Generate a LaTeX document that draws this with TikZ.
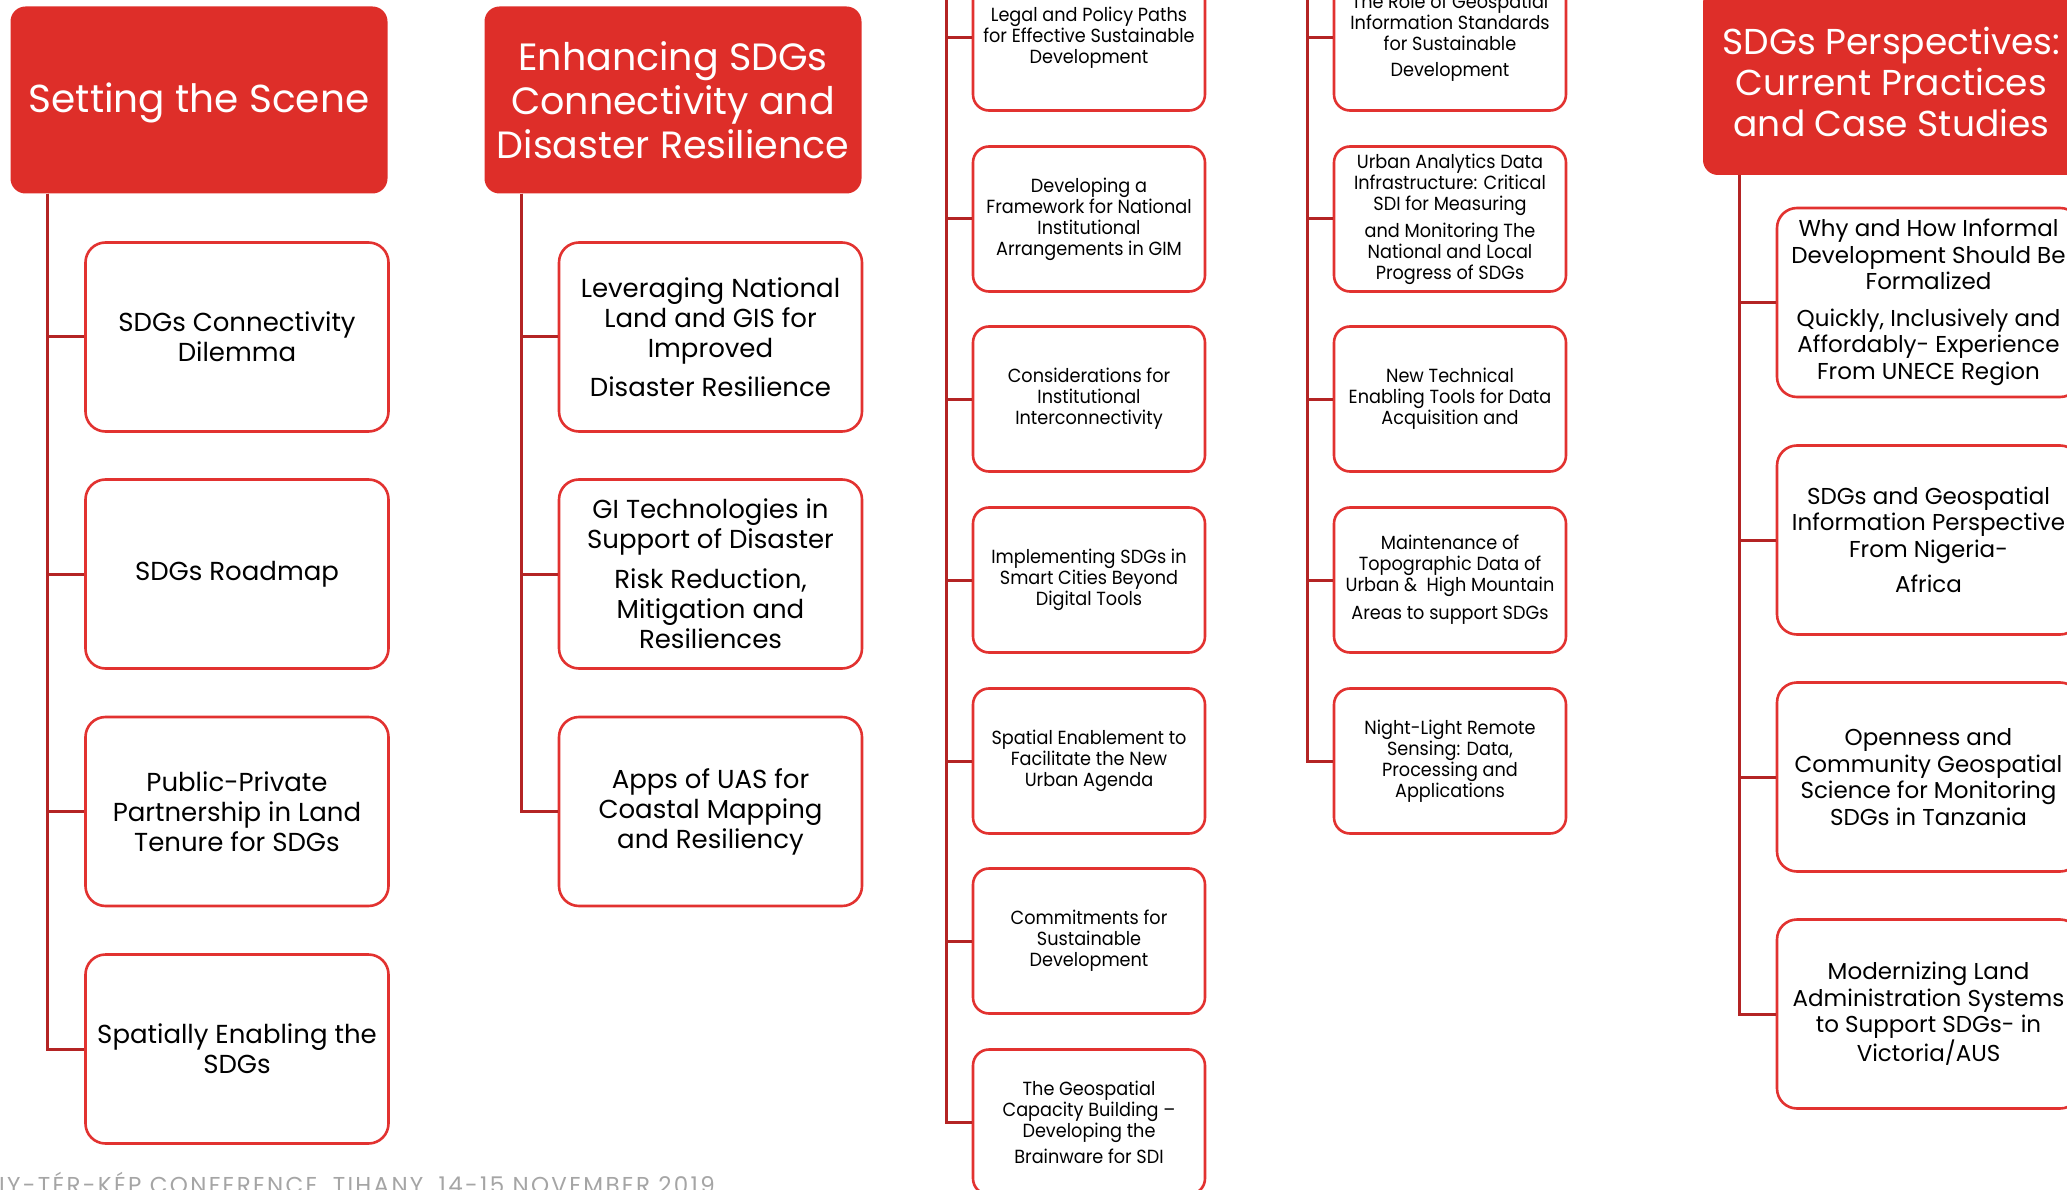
\documentclass[tikz,border=0pt]{standalone}
\usepackage{fontspec}
\setmainfont{Poppins}
\newfontfamily\narrowfont[FakeStretch=0.93]{Poppins}
\newfontfamily\footfont[LetterSpace=10]{Poppins}
\usepackage{tikz}
\usetikzlibrary{positioning}
\definecolor{headred}{RGB}{222,46,41}
\definecolor{boxred}{RGB}{226,50,48}
\definecolor{spinered}{RGB}{180,36,36}
\definecolor{footgray}{RGB}{165,165,165}

\begin{document}
\begin{tikzpicture}[x=1pt,y=-1pt,
    topic/.style={fill=headred, rounded corners=15pt, text=white, align=center, inner sep=0pt, minimum width=377pt, minimum height=187pt},
    card/.style={draw=boxred, line width=2.6pt, fill=white, rounded corners=20pt, align=center, inner sep=0pt, minimum width=303pt, minimum height=189pt, font=\fontsize{26}{30}\selectfont},
    slim/.style={card, rounded corners=16pt, minimum width=232pt, minimum height=145pt, font=\narrowfont\fontsize{19}{21}\selectfont},
    wide/.style={card, font=\fontsize{23}{26.5}\selectfont},
    branch/.style={draw=spinered, line width=3pt}]
    \useasboundingbox (0,0) rectangle (2067,1190);

    % Setting the scene
    \node[topic, font=\fontsize{39}{44}\selectfont] (setting) at (199,100) {\raisebox{-13pt}[0pt][0pt]{Setting the Scene}};
    \foreach \n/\y/\t in {1/337/{SDGs Connectivity\\Dilemma}, 2/574/{SDGs Roadmap},
        3/811.5/{Public-Private\\Partnership in Land\\Tenure for SDGs}, 4/1049/{Spatially Enabling the\\SDGs}}
      \node[card] (scene\n) at (237,\y) {\t};
    \foreach \n in {1,...,4}
      \draw[branch] ([xshift=37pt]setting.south west) |- (scene\n.west);

    % Connectivity and resilience
    \node[topic, font=\fontsize{38}{44}\selectfont] (enhancing) at (673,100) {Enhancing SDGs\\Connectivity and\\Disaster Resilience};
    \foreach \n/\y/\t in {1/337/{Leveraging National\\Land and GIS for\\Improved\\[9pt]Disaster Resilience},
        2/574/{GI Technologies in\\Support of Disaster\\[10pt]Risk Reduction,\\Mitigation and\\Resiliences},
        3/811.5/{Apps of UAS for\\Coastal Mapping\\and Resiliency}}
      \node[card] (resil\n) at (710.5,\y) {\t};
    \foreach \n in {1,...,3}
      \draw[branch] ([xshift=37pt]enhancing.south west) |- (resil\n.west);

    % Institutional column (runs off the top)
    \coordinate (legaltop) at (946.5,-30);
    \foreach \n/\y/\t in {1/38/{Legal and Policy Paths\\for Effective Sustainable\\Development},
        2/219/{Developing a\\Framework for National\\Institutional\\Arrangements in GIM},
        3/399/{Considerations for\\Institutional\\Interconnectivity},
        4/580/{Implementing SDGs in\\Smart Cities Beyond\\Digital Tools},
        5/761/{Spatial Enablement to\\Facilitate the New\\Urban Agenda},
        6/941/{Commitments for\\Sustainable\\Development},
        7/1122/{The Geospatial\\Capacity Building –\\Developing the\\[5pt]Brainware for SDI}}
      \node[slim] (legal\n) at (1089,\y) {\t};
    \foreach \n in {1,...,7}
      \draw[branch] (legaltop) |- (legal\n.west);

    % Data column (runs off the top)
    \coordinate (datatop) at (1307.7,-30);
    \foreach \n/\y/\t in {1/38/{The Role of Geospatial\\Information Standards\\for Sustainable\\[5pt]Development},
        2/219/{Urban Analytics Data\\Infrastructure: Critical\\SDI for Measuring\\[6pt]and Monitoring The\\National and Local\\Progress of SDGs},
        3/399/{New Technical\\Enabling Tools for Data\\Acquisition and},
        4/580/{Maintenance of\\Topographic Data of\\Urban \&~ High Mountain\\[7pt]Areas to support SDGs},
        5/761/{Night-Light Remote\\Sensing: Data,\\Processing and\\Applications}}
      \node[slim] (data\n) at (1450,\y) {\t};
    \foreach \n in {1,...,5}
      \draw[branch] (datatop) |- (data\n.west);

    % Perspectives (cut at the right)
    \node[topic, font=\fontsize{36}{41}\selectfont] (perspect) at (1891.5,81.5) {SDGs Perspectives:\\Current Practices\\and Case Studies};
    \foreach \n/\y/\t in {1/302.5/{Why and How Informal\\Development Should Be\\Formalized\\[10pt]Quickly, Inclusively and\\Affordably- Experience\\From UNECE Region},
        2/540/{SDGs and Geospatial\\Information Perspective\\From Nigeria-\\[9pt]Africa},
        3/777/{Openness and\\Community Geospatial\\Science for Monitoring\\SDGs in Tanzania},
        4/1014/{Modernizing Land\\Administration Systems\\to Support SDGs- in\\Victoria/AUS}}
      \node[wide] (case\n) at (1928.5,\y) {\t};
    \foreach \n in {1,...,4}
      \draw[branch] ([xshift=37pt]perspect.south west) |- (case\n.west);

    % Footer
    \node[anchor=base west, inner sep=0pt, text=footgray, font=\footfont\fontsize{23}{23}\selectfont] (footer) at (-1,1193) {IY-TÉR-KÉP CONFERENCE, TIHANY, 14-15 NOVEMBER 2019};
\end{tikzpicture}
\end{document}
